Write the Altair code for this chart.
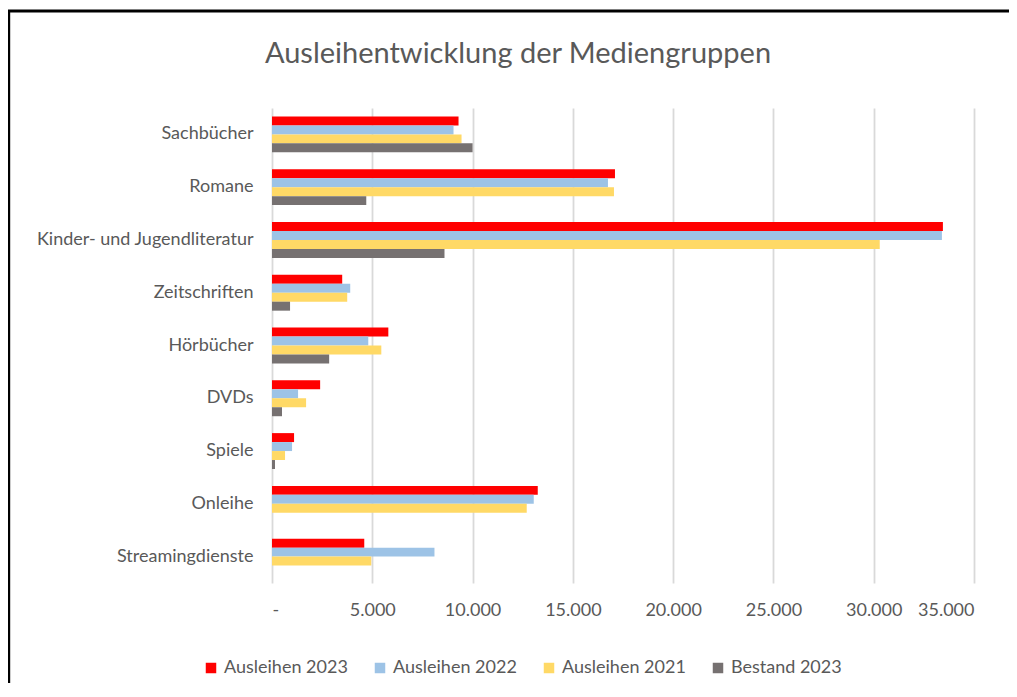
import altair as alt
import pandas as pd

categories = ["Sachbücher", "Romane", "Kinder- und Jugendliteratur", "Zeitschriften",
              "Hörbücher", "DVDs", "Spiele", "Onleihe", "Streamingdienste"]
series = ["Ausleihen 2023", "Ausleihen 2022", "Ausleihen 2021", "Bestand 2023"]
ausleihen_2023 = [9300, 17100, 33450, 3500, 5800, 2400, 1100, 13250, 4600]
ausleihen_2022 = [9050, 16750, 33400, 3900, 4800, 1300, 1000, 13050, 8100]
ausleihen_2021 = [9450, 17050, 30300, 3750, 5450, 1700, 650, 12700, 4950]
bestand_2023 = [10000, 4700, 8600, 900, 2850, 500, 150, 0, 0]
colors = ["#FF0000", "#9DC3E6", "#FFD966", "#767171"]
x_ticks = [0, 5000, 10000, 15000, 20000, 25000, 30000, 35000]

rows = []
for s, vals in zip(series, [ausleihen_2023, ausleihen_2022, ausleihen_2021, bestand_2023]):
    for c, v in zip(categories, vals):
        rows.append({"Kategorie": c, "Serie": s, "Wert": v})
df = pd.DataFrame(rows)

FONT = "Lato"
TXT = "#595959"

bars = alt.Chart(df).mark_bar().encode(
    y=alt.Y("Kategorie:N", sort=categories, title=None,
            scale=alt.Scale(paddingInner=0.32, paddingOuter=0.16),
            axis=alt.Axis(ticks=False, domain=False, labelPadding=19,
                          labelFontSize=18, labelColor=TXT, labelFont=FONT,
                          labelLimit=400)),
    yOffset=alt.YOffset("Serie:N", sort=series, scale=alt.Scale(paddingInner=0, paddingOuter=0)),
    x=alt.X("Wert:Q", title=None,
            scale=alt.Scale(domain=[0, 35000], nice=False),
            axis=alt.Axis(values=x_ticks, ticks=False, domain=False, labelPadding=18,
                          labelFontSize=18, labelColor=TXT, labelFont=FONT,
                          gridColor="#D9D9D9", gridWidth=1.8,
                          labelExpr="datum.value == 0 ? '-' : replace(format(datum.value, ','), ',', '.')")),
    color=alt.Color("Serie:N", sort=series,
                    scale=alt.Scale(domain=series, range=colors),
                    legend=alt.Legend(title=None, orient="none", direction="horizontal",
                                      legendX=-70, legendY=551, symbolType="square",
                                      symbolSize=110, symbolStrokeWidth=0,
                                      labelFontSize=18, labelColor=TXT, labelFont=FONT,
                                      labelOffset=4, columnPadding=23, padding=0)),
)

border = alt.Chart(pd.DataFrame({"a": [0]})).mark_rect(
    fill=None, stroke="black", strokeWidth=3, clip=False
).encode(
    x=alt.value(-263.3), x2=alt.value(2000),
    y=alt.value(-97), y2=alt.value(2000),
)

chart = alt.layer(bars, border).properties(
    width=702, height=475,
    autosize=alt.AutoSizeParams(type="none"),
    padding={"left": 264, "top": 100, "right": 35, "bottom": 100},
    title=alt.TitleParams("Ausleihentwicklung der Mediengruppen", fontSize=29,
                          font=FONT, color=TXT, fontWeight="normal",
                          anchor="middle", frame="group", dx=-105,
                          baseline="alphabetic", offset=-82),
).configure_view(stroke=None)

chart.save("out.html", embed_options={"renderer": "svg", "actions": False})
